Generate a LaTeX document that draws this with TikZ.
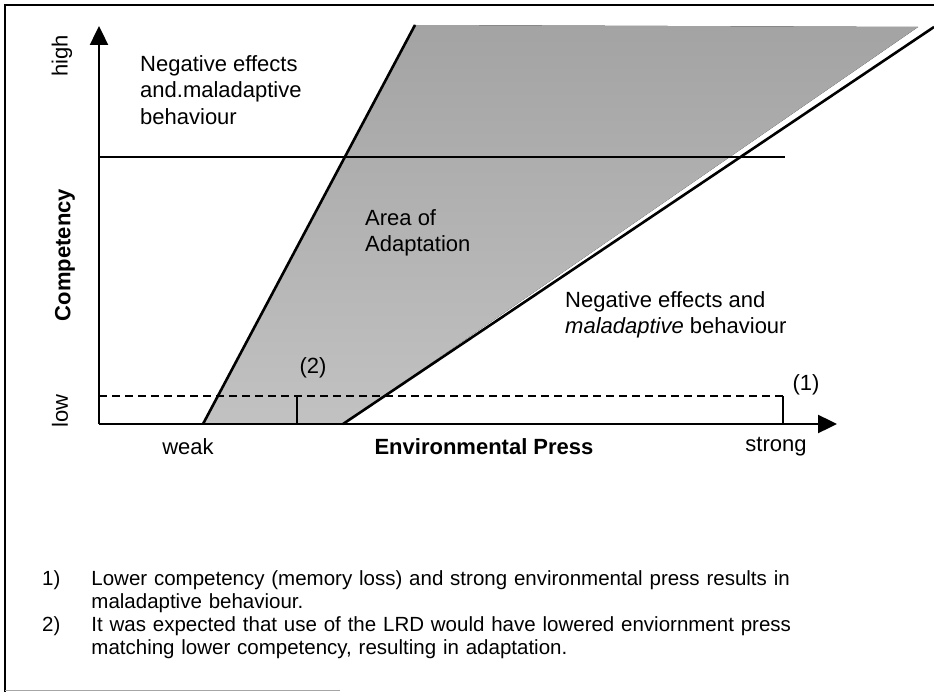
\documentclass[tikz,border=0pt]{standalone}
\usepackage{fontspec}
\setmainfont{Liberation Sans}
\usetikzlibrary{arrows.meta,positioning}
\definecolor{shadetop}{gray}{0.64}
\definecolor{shadebot}{gray}{0.76}
\tikzset{
  axis/.style={
    line width=2.4pt,
    -{Triangle[length=19pt,width=18pt]}
  },
  bound/.style={
    line width=2.6pt
  },
  level/.style={
    line width=2pt
  },
  lowlevel/.style={
    line width=1.8pt,
    dash pattern=on 8pt off 5pt
  },
  lbl/.style={
    align=left,
    inner sep=0pt,
    font=\fontsize{22}{26.5}\selectfont
  },
  ticklbl/.style={
    inner sep=0pt,
    font=\fontsize{22}{26.5}\selectfont
  },
  note/.style={
    align=left,
    inner sep=0pt,
    text width=820pt,
    font=\fontsize{20.5}{23}\selectfont
  }
}

\begin{document}
\begin{tikzpicture}[x=1pt,y=-1pt]
\useasboundingbox (0,0) rectangle (934,692);
% frame
\draw[line width=1.6pt] (5,692) -- (5,5) -- (934,5);
\draw[line width=1pt, black!35] (5,690) -- (340,690);

% axes and boundaries
\coordinate (o) at (99,424);
\coordinate (ytop) at (99,26);
\coordinate (xend) at (837,424);
\coordinate (lb) at (203,424);
\coordinate (lt) at (415,25);
\coordinate (rb) at (343,424);
\coordinate (rt) at (934,27);
\coordinate (ft) at (918,27);
\coordinate (hl) at (99,157);
\coordinate (hr) at (785,157);
\coordinate (dl) at (99,396);
\coordinate (d1) at (783,396);
\coordinate (d2) at (297,396);

% area of adaptation
\fill[top color=shadetop, bottom color=shadebot]
  (lb) -- (lt) -- (ft) -- (rb) -- cycle;

\draw[level] (hl) -- (hr);
\draw[lowlevel] (dl) -- (d1);
\draw[level] (d1) -- (d1 |- o);
\draw[level] (d2) -- (d2 |- o);
\draw[bound] (lb) -- (lt);
\draw[bound] (rb) -- (rt);
\draw[axis] (o) -- (ytop);
\draw[axis] (o) -- (xend);

% labels
\node[lbl, anchor=west] (negtop) at (140,90) {Negative effects\\and.maladaptive\\behaviour};
\node[lbl, anchor=west] (area) at (365,233) {Area of\\Adaptation};
\node[lbl, anchor=west] (negright) at (565,315) {Negative effects and\\\textit{maladaptive} behaviour};
\node[ticklbl] (p1) at (806,385) {(1)};
\node[ticklbl] (p2) at (313,368) {(2)};
\node[ticklbl, rotate=90] (high) at (62,56) {high};
\node[ticklbl, rotate=90] (low) at (60,411) {low};
\node[ticklbl, rotate=90, font=\fontsize{22}{26.5}\selectfont\bfseries] (comp) at (65,255) {Competency};
\node[ticklbl] (weak) at (188,447) {weak};
\node[ticklbl, font=\fontsize{22}{26.5}\selectfont\bfseries] (env) at (484,447) {Environmental Press};
\node[ticklbl] (strong) at (776,447) {strong};

% notes
\node[note, anchor=north west] (n1) at (42,570) {1)\hspace{31pt}\parbox[t]{760pt}{\raggedright Lower competency (memory loss) and strong environmental press results in\\maladaptive behaviour.}};
\node[note, below=4pt of n1.south west, anchor=north west] (n2) {2)\hspace{31pt}\parbox[t]{760pt}{\raggedright It was expected that use of the LRD would have lowered enviornment press\\matching lower competency, resulting in adaptation.}};
\end{tikzpicture}
\end{document}
